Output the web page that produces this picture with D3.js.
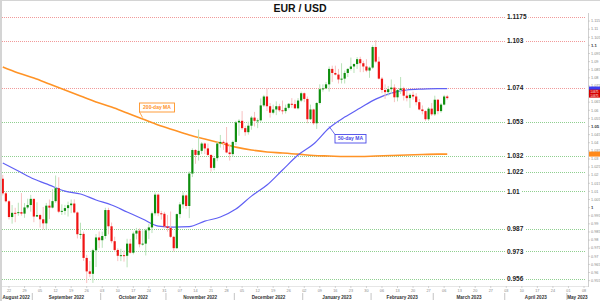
<!DOCTYPE html>
<html><head><meta charset="utf-8">
<script src="https://cdn.jsdelivr.net/npm/d3@7"></script>
<style>html,body{margin:0;padding:0;background:#fff;}svg{display:block;font-family:"Liberation Sans",Arial,sans-serif;}</style>
</head><body>
<svg id="c" width="600" height="301"></svg>
<script>
const dates = [
"2022-08-18","2022-08-19","2022-08-22","2022-08-23","2022-08-24","2022-08-25","2022-08-26","2022-08-29","2022-08-30","2022-08-31",
"2022-09-01","2022-09-02","2022-09-05","2022-09-06","2022-09-07","2022-09-08","2022-09-09","2022-09-12","2022-09-13","2022-09-14","2022-09-15","2022-09-16","2022-09-19","2022-09-20","2022-09-21","2022-09-22","2022-09-23","2022-09-26","2022-09-27","2022-09-28","2022-09-29","2022-09-30",
"2022-10-03","2022-10-04","2022-10-05","2022-10-06","2022-10-07","2022-10-10","2022-10-11","2022-10-12","2022-10-13","2022-10-14","2022-10-17","2022-10-18","2022-10-19","2022-10-20","2022-10-21","2022-10-24","2022-10-25","2022-10-26","2022-10-27","2022-10-28","2022-10-31",
"2022-11-01","2022-11-02","2022-11-03","2022-11-04","2022-11-07","2022-11-08","2022-11-09","2022-11-10","2022-11-11","2022-11-14","2022-11-15","2022-11-16","2022-11-17","2022-11-18","2022-11-21","2022-11-22","2022-11-23","2022-11-24","2022-11-25","2022-11-28","2022-11-29","2022-11-30",
"2022-12-01","2022-12-02","2022-12-05","2022-12-06","2022-12-07","2022-12-08","2022-12-09","2022-12-12","2022-12-13","2022-12-14","2022-12-15","2022-12-16","2022-12-19","2022-12-20","2022-12-21","2022-12-22","2022-12-23","2022-12-26","2022-12-27","2022-12-28","2022-12-29","2022-12-30",
"2023-01-02","2023-01-03","2023-01-04","2023-01-05","2023-01-06","2023-01-09","2023-01-10","2023-01-11","2023-01-12","2023-01-13","2023-01-16","2023-01-17","2023-01-18","2023-01-19","2023-01-20","2023-01-23","2023-01-24","2023-01-25","2023-01-26","2023-01-27","2023-01-30","2023-01-31",
"2023-02-01","2023-02-02","2023-02-03","2023-02-06","2023-02-07","2023-02-08","2023-02-09","2023-02-10","2023-02-13","2023-02-14","2023-02-15","2023-02-16","2023-02-17","2023-02-20","2023-02-21","2023-02-22","2023-02-23","2023-02-24","2023-02-27","2023-02-28",
"2023-03-01","2023-03-02","2023-03-03","2023-03-06","2023-03-07"];

const open = [1.0178,1.0088,1.0039,0.9942,0.9968,0.9967,0.9972,0.9963,1.0001,1.0016,
1.0054,0.9945,0.9954,0.9928,0.9903,1.0012,1.0000,1.0040,1.0120,0.9975,0.9980,0.9997,1.0015,1.0025,0.9970,0.9836,0.9838,0.9690,0.9607,0.9592,0.9737,0.9816,
0.9799,0.9825,0.9985,0.9885,0.9793,0.9739,0.9703,0.9707,0.9703,0.9778,0.9722,0.9840,0.9858,0.9774,0.9778,0.9860,0.9878,0.9965,1.0080,0.9965,0.9962,
0.9884,0.9875,0.9820,0.9750,0.9960,1.0020,1.0075,1.0010,1.0210,1.0355,1.0325,1.0350,1.0395,1.0365,1.0325,1.0245,1.0305,1.0395,1.0405,1.0400,1.0340,1.0330,
1.0405,1.0525,1.0535,1.0490,1.0465,1.0505,1.0555,1.0535,1.0538,1.0630,1.0685,1.0625,1.0585,1.0605,1.0625,1.0600,1.0595,1.0615,1.0640,1.0638,1.0612,1.0660,
1.0705,1.0670,1.0545,1.0605,1.0520,1.0645,1.0730,1.0735,1.0760,1.0855,1.0830,1.0820,1.0790,1.0795,1.0830,1.0855,1.0870,1.0885,1.0915,1.0890,1.0870,1.0845,
1.0863,1.0990,1.0900,1.0795,1.0725,1.0712,1.0730,1.0740,1.0680,1.0725,1.0735,1.0690,1.0675,1.0695,1.0685,1.0650,1.0605,1.0595,1.0545,1.0610,
1.0575,1.0665,1.0595,1.0635,1.0685];

const high = [1.0202,1.0097,1.0046,1.0016,0.9999,1.0030,1.0090,1.0028,1.0055,1.0079,
1.0055,1.0033,0.9962,1.0004,1.0029,1.0050,1.0113,1.0198,1.0187,1.0020,1.0017,1.0037,1.0050,1.0051,0.9976,0.9907,0.9852,0.9709,0.9671,0.9747,0.9837,0.9853,
0.9852,0.9999,0.9999,0.9908,0.9821,0.9749,0.9746,0.9737,0.9808,0.9807,0.9852,0.9875,0.9872,0.9860,0.9870,0.9900,0.9976,1.0093,1.0088,0.9980,0.9974,
0.9954,0.9976,0.9826,0.9964,1.0034,1.0095,1.0081,1.0223,1.0365,1.0361,1.0481,1.0404,1.0401,1.0395,1.0327,1.0316,1.0405,1.0448,1.0414,1.0497,1.0388,1.0413,
1.0535,1.0545,1.0595,1.0505,1.0530,1.0565,1.0590,1.0550,1.0673,1.0695,1.0735,1.0645,1.0635,1.0655,1.0640,1.0660,1.0635,1.0645,1.0675,1.0665,1.0675,1.0715,
1.0710,1.0685,1.0635,1.0610,1.0650,1.0760,1.0760,1.0775,1.0870,1.0875,1.0875,1.0855,1.0890,1.0845,1.0860,1.0925,1.0890,1.0928,1.0930,1.0905,1.0915,1.0870,
1.1000,1.1033,1.0930,1.0805,1.0760,1.0750,1.0790,1.0760,1.0730,1.0805,1.0745,1.0720,1.0705,1.0715,1.0705,1.0670,1.0630,1.0600,1.0620,1.0645,
1.0690,1.0670,1.0645,1.0695,1.0695];

const low = [1.0075,1.0032,0.9927,0.9901,0.9910,0.9950,0.9950,0.9937,0.9990,0.9975,
0.9910,0.9942,0.9877,0.9865,0.9864,0.9930,0.9995,1.0030,0.9966,0.9955,0.9956,0.9945,0.9966,0.9964,0.9810,0.9807,0.9671,0.9535,0.9571,0.9536,0.9634,0.9750,
0.9752,0.9808,0.9835,0.9780,0.9727,0.9670,0.9670,0.9667,0.9632,0.9716,0.9712,0.9804,0.9755,0.9765,0.9705,0.9807,0.9843,0.9951,0.9947,0.9926,0.9873,
0.9852,0.9813,0.9730,0.9746,0.9935,0.9995,0.9992,0.9935,1.0188,1.0270,1.0290,1.0331,1.0330,1.0318,1.0222,1.0230,1.0286,1.0370,1.0356,1.0335,1.0290,1.0315,
1.0385,1.0443,1.0480,1.0443,1.0450,1.0480,1.0500,1.0490,1.0530,1.0620,1.0595,1.0555,1.0575,1.0570,1.0590,1.0575,1.0580,1.0605,1.0615,1.0610,1.0605,1.0650,
1.0650,1.0520,1.0540,1.0510,1.0485,1.0635,1.0715,1.0730,1.0715,1.0775,1.0815,1.0765,1.0765,1.0765,1.0805,1.0845,1.0830,1.0855,1.0835,1.0835,1.0835,1.0800,
1.0855,1.0890,1.0790,1.0705,1.0670,1.0690,1.0700,1.0650,1.0655,1.0700,1.0660,1.0655,1.0615,1.0665,1.0630,1.0600,1.0575,1.0535,1.0535,1.0565,
1.0565,1.0575,1.0585,1.0630,1.0665];

const close = [1.0088,1.0039,0.9942,0.9968,0.9967,0.9972,0.9963,1.0001,1.0016,1.0054,
0.9945,0.9954,0.9928,0.9903,1.0012,1.0000,1.0040,1.0120,0.9975,0.9980,0.9997,1.0015,1.0025,0.9970,0.9836,0.9838,0.9690,0.9607,0.9592,0.9737,0.9816,0.9799,
0.9825,0.9985,0.9885,0.9793,0.9739,0.9703,0.9707,0.9703,0.9778,0.9722,0.9840,0.9858,0.9774,0.9778,0.9860,0.9878,0.9965,1.0080,0.9965,0.9962,0.9884,
0.9875,0.9820,0.9750,0.9960,1.0020,1.0075,1.0010,1.0210,1.0355,1.0325,1.0350,1.0395,1.0365,1.0325,1.0245,1.0305,1.0395,1.0405,1.0400,1.0340,1.0330,1.0405,
1.0525,1.0535,1.0490,1.0465,1.0505,1.0555,1.0535,1.0538,1.0630,1.0685,1.0625,1.0585,1.0605,1.0625,1.0600,1.0595,1.0615,1.0640,1.0638,1.0612,1.0660,1.0705,
1.0670,1.0545,1.0605,1.0520,1.0645,1.0730,1.0735,1.0760,1.0855,1.0830,1.0820,1.0790,1.0795,1.0830,1.0855,1.0870,1.0885,1.0915,1.0890,1.0870,1.0845,1.0863,
1.0990,1.0900,1.0795,1.0725,1.0712,1.0730,1.0740,1.0680,1.0725,1.0735,1.0690,1.0675,1.0695,1.0685,1.0650,1.0605,1.0595,1.0545,1.0610,1.0575,
1.0665,1.0595,1.0635,1.0685,1.0675];

// moving averages read at weekly points
const maDates = ["2022-08-18","2022-08-25","2022-09-01","2022-09-08","2022-09-15","2022-09-22","2022-09-29","2022-10-06","2022-10-13","2022-10-20",
"2022-10-27","2022-11-03","2022-11-10","2022-11-17","2022-11-24","2022-12-01","2022-12-08","2022-12-15","2022-12-22","2022-12-29",
"2023-01-05","2023-01-12","2023-01-19","2023-01-26","2023-02-02","2023-02-09","2023-02-16","2023-02-23","2023-03-02","2023-03-07"];
const ma50 = [1.0275,1.0226,1.0176,1.0139,1.0102,1.0084,1.0047,1.0016,0.9973,0.9930,
0.9886,0.9880,0.9883,0.9917,0.9942,0.9991,1.0071,1.0139,1.0232,1.0324,
1.0392,1.0491,1.0558,1.0614,1.0669,1.0706,1.0725,1.0731,1.0734,1.0734];
const ma200 = [1.0867,1.0830,1.0799,1.0762,1.0725,1.0688,1.0651,1.0620,1.0583,1.0546,
1.0509,1.0478,1.0448,1.0423,1.0398,1.0373,1.0355,1.0343,1.0337,1.0330,
1.0321,1.0318,1.0315,1.0315,1.0318,1.0321,1.0324,1.0327,1.0330,1.0330];

const levelValues = [1.1175,1.103,1.074,1.053,1.032,1.022,1.01,0.987,0.973,0.956];
const levelLabels = ["1.1175","1.103","1.074","1.053","1.032","1.022","1.01","0.987","0.973","0.956"];

const axisTicks = [1.115,1.11,1.105,1.1,1.095,1.09,1.085,1.08,1.075,1.07,1.065,1.06,1.055,1.05,1.045,1.04,1.035,1.03,1.025,1.02,1.015,1.01,1.005,1,0.995,0.99,0.985,0.98,0.975,0.97,0.965,0.96,0.955];
const axisTickLabels = ["1.115","1.11","1.105","1.1","1.095","1.09","1.085","1.08","1.075","1.07","1.065","1.06","1.055","1.05","1.045","1.04","1.035","1.03","1.025","1.02","1.015","1.01","1.005","1","0.995","0.99","0.985","0.98","0.975","0.97","0.965","0.96","0.955"];

const weekTickDates = ["2022-08-22","2022-08-29","2022-09-05","2022-09-12","2022-09-19","2022-09-26","2022-10-03","2022-10-10","2022-10-17","2022-10-24","2022-10-31",
"2022-11-07","2022-11-14","2022-11-21","2022-11-28","2022-12-05","2022-12-12","2022-12-19","2022-12-26","2023-01-02","2023-01-09","2023-01-16","2023-01-23","2023-01-30",
"2023-02-06","2023-02-13","2023-02-20","2023-02-27","2023-03-06","2023-03-13","2023-03-20","2023-03-27","2023-04-03","2023-04-10","2023-04-17","2023-04-24","2023-05-01","2023-05-08"];
const weekTickLabels = ["22","29","05","12","19","26","03","10","17","24","31","07","14","21","28","05","12","19","26","02","09","16","23","30","06","13","20","27","06","13","20","27","03","10","17","24","01","08"];

const monthStarts = ["2022-08-18","2022-09-01","2022-10-03","2022-11-01","2022-12-01","2023-01-02","2023-02-01","2023-03-01","2023-04-03","2023-05-01"];
const monthLabels = ["August 2022","September 2022","October 2022","November 2022","December 2022","January 2023","February 2023","March 2023","April 2023","May 2023"];
const axisEndDate = "2023-05-08";

const title = "EUR / USD";

// ---------- drawing ----------
const svg = d3.select("#c");
const parse = d3.timeParse("%Y-%m-%d");
const start = parse(dates[0]);
function idxOf(s){
  const d = parse(s);
  return d3.timeDay.range(start, d).filter(t => t.getDay() !== 0 && t.getDay() !== 6).length;
}
const plotRight = 588;
const x = d3.scaleLinear().domain([0, idxOf(axisEndDate)]).range([2.78, 584]);
const y = d3.scaleLinear().domain([0.956, 1.1175]).range([279, 17]);
const step = x(1) - x(0);

// frame
svg.append("rect").attr("x",0).attr("y",0).attr("width",600).attr("height",301).attr("fill","#fff");
svg.append("rect").attr("x",0).attr("y",0).attr("width",2).attr("height",301).attr("fill","#d4d4d4");
svg.append("line").attr("x1",0).attr("x2",600).attr("y1",0.5).attr("y2",0.5).attr("stroke","#d4d4d4");

// title
svg.append("text").attr("x",300).attr("y",11.5).attr("text-anchor","middle")
  .attr("font-size",10.5).attr("font-weight","bold").attr("fill","#111").text(title);

// clip
svg.append("clipPath").attr("id","pc").append("rect").attr("x",2).attr("y",12).attr("width",plotRight-2).attr("height",276);

// level lines
const lv = svg.append("g");
levelValues.forEach((v,i)=>{
  const yy = Math.round(y(v))+0.5;
  lv.append("line").attr("x1",2).attr("x2",586).attr("y1",yy).attr("y2",yy)
    .attr("stroke", v >= 1.074 ? "#f19a9a" : "#8fcf8f").attr("stroke-width",1.2).attr("stroke-dasharray","1,1");
});

// marker positions on the right axis
const lastIdx = dates.length-1;
const redTop = y(close[lastIdx]) - 8.5, redBot = y(close[lastIdx]) - 0.5;

// right axis
const ax = svg.append("g");
ax.append("line").attr("x1",plotRight+0.5).attr("x2",plotRight+0.5).attr("y1",13).attr("y2",287).attr("stroke","#cfcfcf");
axisTicks.forEach((v,i)=>{
  const yy = y(v);
  ax.append("line").attr("x1",plotRight).attr("x2",plotRight+2).attr("y1",yy).attr("y2",yy).attr("stroke","#bbb").attr("stroke-width",0.6);
  if (yy > redTop - 1 && yy < redBot + 1) return; // hidden under the price marker
  const bold = Math.abs(v*20 - Math.round(v*20)) < 1e-6;
  ax.append("text").attr("x",plotRight+3).attr("y",yy+1.3).attr("font-size",bold?4.2:3.8)
    .attr("font-weight",bold?"bold":"normal").attr("fill",bold?"#333":"#888").text(axisTickLabels[i]);
});

// bottom axis
const bx = svg.append("g");
bx.append("line").attr("x1",2).attr("x2",plotRight).attr("y1",286.5).attr("y2",286.5).attr("stroke","#e6e6e6");
weekTickDates.forEach((d,i)=>{
  const xx = x(idxOf(d));
  bx.append("line").attr("x1",xx).attr("x2",xx).attr("y1",286).attr("y2",288).attr("stroke","#bbb").attr("stroke-width",0.6);
  bx.append("text").attr("x",xx).attr("y",291.5).attr("text-anchor","middle").attr("font-size",3.8).attr("fill","#888").text(weekTickLabels[i]);
});
monthStarts.forEach((d,i)=>{
  const x0 = i===0 ? 0 : x(idxOf(d)) - step/2;
  const x1 = i < monthStarts.length-1 ? x(idxOf(monthStarts[i+1])) - step/2 : plotRight;
  if(i>0) bx.append("line").attr("x1",x0).attr("x2",x0).attr("y1",293).attr("y2",300).attr("stroke","#aaa").attr("stroke-width",0.7);
  bx.append("text").attr("x",(x0+x1)/2).attr("y",298.5).attr("text-anchor","middle")
    .attr("font-size",4.6).attr("font-weight","bold").attr("fill","#333").text(monthLabels[i]);
});

// moving averages
const plot = svg.append("g").attr("clip-path","url(#pc)");
const maLine = d3.line().x(d=>x(idxOf(d[0]))).y(d=>y(d[1])).curve(d3.curveMonotoneX);
plot.append("path").attr("d", maLine(maDates.map((d,i)=>[d,ma200[i]])))
  .attr("fill","none").attr("stroke","#ff9326").attr("stroke-width",1.6);
plot.append("path").attr("d", maLine(maDates.map((d,i)=>[d,ma50[i]])))
  .attr("fill","none").attr("stroke","#6060f4").attr("stroke-width",1.2);

// candles
const cg = plot.append("g");
dates.forEach((d,i)=>{
  const xx = x(idxOf(d));
  const up = close[i] >= open[i];
  cg.append("line").attr("x1",xx).attr("x2",xx).attr("y1",y(high[i])).attr("y2",y(low[i]))
    .attr("stroke", up ? "#b9e2b9" : "#f7c0c0").attr("stroke-width",1);
  const top = y(Math.max(open[i],close[i])), bot = y(Math.min(open[i],close[i]));
  cg.append("rect").attr("x",xx-1.1).attr("y",top).attr("width",2.2).attr("height",Math.max(1,bot-top))
    .attr("fill", up ? "#0e8e0e" : "#f01414");
});

// level labels (with white background)
levelValues.forEach((v,i)=>{
  const yy = y(v);
  const t = svg.append("text").attr("x",507).attr("y",yy+2.3).attr("font-size",6.5).attr("font-weight","bold")
    .attr("fill","#222").text(levelLabels[i]);
  const w = t.node().getComputedTextLength();
  svg.insert("rect", () => t.node()).attr("x",505).attr("y",yy-3.5).attr("width",w+4).attr("height",7).attr("fill","#fff");
});

// MA callouts
function callout(idxDate, val, bx0, by0, bw, bh, cx, cy, label, color){
  const px = x(idxOf(idxDate)), py = y(val);
  svg.append("line").attr("x1",cx).attr("y1",cy).attr("x2",px).attr("y2",py).attr("stroke",color).attr("stroke-width",0.8);
  svg.append("rect").attr("x",bx0).attr("y",by0).attr("width",bw).attr("height",bh).attr("fill","#fff").attr("stroke",color).attr("stroke-width",0.9);
  svg.append("text").attr("x",bx0+bw/2).attr("y",by0+bh/2+1.7).attr("text-anchor","middle").attr("font-size",5)
    .attr("font-weight","bold").attr("fill",color).text(label);
}
callout("2022-10-20", 1.0555, 139.5, 103, 35, 9, 139.5, 112, "200-day MA", "#ff9326");
callout("2023-01-12", 1.0500, 335, 134.5, 31, 8.5, 335, 134.5, "50-day MA", "#4a4ae8");

// right axis markers
svg.append("rect").attr("x",plotRight+1).attr("y",y(ma50[ma50.length-1])-2).attr("width",11).attr("height",4).attr("fill","#3c3cf0");
svg.append("rect").attr("x",plotRight+1).attr("y",redTop).attr("width",11).attr("height",redBot-redTop).attr("fill","#d60000");
svg.append("text").attr("x",plotRight+6.5).attr("y",redTop+3.3).attr("text-anchor","middle").attr("font-size",2.7).attr("fill","#fff").text(close[lastIdx].toFixed(4));
svg.append("text").attr("x",plotRight+6.5).attr("y",redTop+7.2).attr("text-anchor","middle").attr("font-size",2.7).attr("fill","#fff").text(close[lastIdx].toFixed(4));
svg.append("rect").attr("x",plotRight+1).attr("y",y(ma200[ma200.length-1])-2.5).attr("width",11).attr("height",5).attr("fill","#ff8a1a");
</script>
</body></html>
